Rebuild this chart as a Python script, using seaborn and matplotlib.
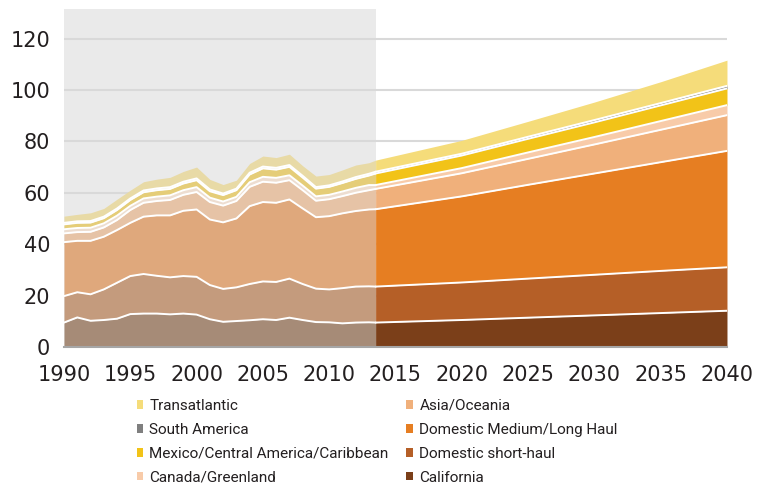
import numpy as np
import seaborn as sns
import matplotlib.pyplot as plt
from matplotlib.patches import Patch

### Years ###
hist_years = list(range(1990, 2014))
proj_years = [2013.5, 2020, 2025, 2030, 2035, 2040]
split_year = 2013.5

### Historical values (1990-2013), bottom layer first ###
hist_california = [9.5, 11.5, 10.2, 10.5, 11.0, 12.8, 13.0, 13.0, 12.7, 13.0, 12.6, 10.8,
                   9.8, 10.1, 10.4, 10.8, 10.5, 11.4, 10.5, 9.7, 9.6, 9.2, 9.5, 9.6]
hist_short = [10.3, 9.8, 10.3, 11.9, 14.0, 14.8, 15.4, 14.7, 14.4, 14.6, 14.7, 13.3,
              12.8, 13.1, 14.1, 14.7, 14.8, 15.2, 14.0, 13.0, 12.8, 13.7, 14.0, 14.0]
hist_medium = [21.0, 20.0, 20.8, 20.5, 20.5, 20.7, 22.3, 23.5, 24.1, 25.4, 26.2, 25.5,
               25.9, 26.8, 30.3, 30.9, 30.8, 30.8, 29.4, 27.8, 28.5, 29.1, 29.4, 29.9]
hist_asia = [3.4, 3.4, 3.5, 3.6, 3.9, 5.0, 5.4, 5.6, 6.0, 6.2, 6.8, 6.8,
             6.5, 6.8, 7.5, 7.9, 7.8, 7.5, 7.1, 6.4, 6.6, 6.7, 7.1, 7.5]
hist_canada = [1.6, 1.6, 1.6, 1.6, 1.7, 1.6, 1.7, 1.7, 1.8, 1.8, 1.9, 1.7,
               1.6, 1.6, 1.8, 1.9, 1.9, 1.9, 1.8, 1.7, 1.7, 1.8, 1.9, 2.0]
hist_mexico = [1.9, 2.0, 2.0, 2.0, 2.2, 2.3, 2.4, 2.5, 2.5, 2.6, 2.7, 2.5,
               2.5, 2.6, 3.0, 3.3, 3.2, 3.3, 3.1, 3.0, 3.1, 3.3, 3.5, 3.7]
hist_samerica = [0.6, 0.6, 0.6, 0.6, 0.6, 0.6, 0.7, 0.7, 0.7, 0.7, 0.7, 0.7,
                 0.6, 0.6, 0.7, 0.7, 0.7, 0.7, 0.7, 0.6, 0.6, 0.6, 0.7, 0.7]
hist_transatlantic = [2.6, 2.7, 3.2, 3.2, 3.6, 3.2, 3.4, 3.6, 3.8, 4.0, 4.4, 3.9,
                      3.5, 3.3, 3.6, 4.1, 4.0, 4.2, 3.9, 4.3, 4.2, 4.5, 4.7, 4.3]

### Projection values (2013.5-2040) ###
proj_california = [9.5, 10.5, 11.4, 12.3, 13.2, 14.1]
proj_short = [14.0, 14.6, 15.2, 15.8, 16.4, 16.9]
proj_medium = [30.1, 33.5, 36.5, 39.4, 42.3, 45.3]
proj_asia = [7.9, 9.0, 10.1, 11.3, 12.6, 13.9]
proj_canada = [1.5, 2.0, 2.5, 2.9, 3.4, 3.9]
proj_mexico = [4.5, 4.9, 5.3, 5.7, 6.1, 6.5]
proj_samerica = [0.7, 0.7, 0.8, 0.9, 0.9, 1.0]
proj_transatlantic = [4.5, 5.2, 6.0, 7.0, 8.3, 10.0]

labels = ["California", "Domestic short-haul", "Domestic Medium/Long Haul", "Asia/Oceania",
          "Canada/Greenland", "Mexico/Central America/Caribbean", "South America", "Transatlantic"]
proj_colors = ["#7B3F19", "#B55F27", "#E67E22", "#F0B07B", "#F8CBA9", "#F2C318", "#7F7F7F", "#F5DC7A"]
hist_colors = ["#A68B77", "#C49B7D", "#DFA87C", "#E6C3A6", "#EDDDD0", "#E5CD78", "#E4E2DE", "#E8DAA6"]

### Seaborn customisation ###
sns.set_theme(style="white")
plt.rcParams["font.family"] = ["DejaVu Sans"]
text_col = "#231F20"

hist_stack = np.array([hist_california, hist_short, hist_medium, hist_asia,
                       hist_canada, hist_mexico, hist_samerica, hist_transatlantic])
proj_stack = np.array([proj_california, proj_short, proj_medium, proj_asia,
                       proj_canada, proj_mexico, proj_samerica, proj_transatlantic])

# historical part runs up to the split, joining the first projection value
hist_x = np.append(hist_years, split_year)
hist_stack = np.column_stack([hist_stack, proj_stack[:, 0]])

fig = plt.figure(figsize=(7.61, 4.87), dpi=100)
ax = fig.add_axes([0.0841, 0.2875, 0.8712, 0.694])

ax.axvspan(1990, split_year, color="#EAEAEA", zorder=0.2, lw=0)
ax.stackplot(hist_x, hist_stack, colors=hist_colors, lw=0, zorder=2)
ax.stackplot(proj_years, proj_stack, colors=proj_colors, lw=0, zorder=2)

### White separators between layers ###
for xs, stack in [(hist_x, hist_stack), (proj_years, proj_stack)]:
    cum = np.cumsum(stack, axis=0)
    for row in cum[:-1]:
        sns.lineplot(x=xs, y=row, color="white", lw=1.4, ax=ax, zorder=3)

ax.set_xlim(1990, 2040)
ax.set_ylim(0, 131.5)
ax.set_xticks(range(1990, 2041, 5))
ax.set_yticks(range(0, 121, 20))
ax.yaxis.grid(True, color="#D9D9D9", lw=1.5)
ax.set_axisbelow(True)
for s in ["top", "right", "left"]:
    ax.spines[s].set_visible(False)
ax.spines["bottom"].set_color("#A6A6A6")
ax.spines["bottom"].set_linewidth(1.5)
ax.spines["bottom"].set_zorder(4)
ax.tick_params(axis="both", length=0, labelsize=15, colors=text_col)
ax.tick_params(axis="y", pad=10)
ax.tick_params(axis="x", pad=13)
ax.set_xlabel("")
ax.set_ylabel("")

### Legend in two columns ###
handles = [Patch(facecolor=c, edgecolor="none") for c in proj_colors]
order = [7, 6, 5, 4, 3, 2, 1, 0]
leg_kw = dict(frameon=False, handlelength=0.45, handleheight=0.45, handletextpad=0.4,
              labelspacing=0.65, borderpad=0, borderaxespad=0,
              prop={"family": "Roboto", "size": 11}, labelcolor=text_col, loc="upper left")
fig.legend([handles[i] for i in order[:4]], [labels[i] for i in order[:4]],
           bbox_to_anchor=(136.5 / 761, 1 - 399 / 487), **leg_kw)
fig.legend([handles[i] for i in order[4:]], [labels[i] for i in order[4:]],
           bbox_to_anchor=(406.5 / 761, 1 - 399 / 487), **leg_kw)

fig.savefig("out.png", dpi=100)
